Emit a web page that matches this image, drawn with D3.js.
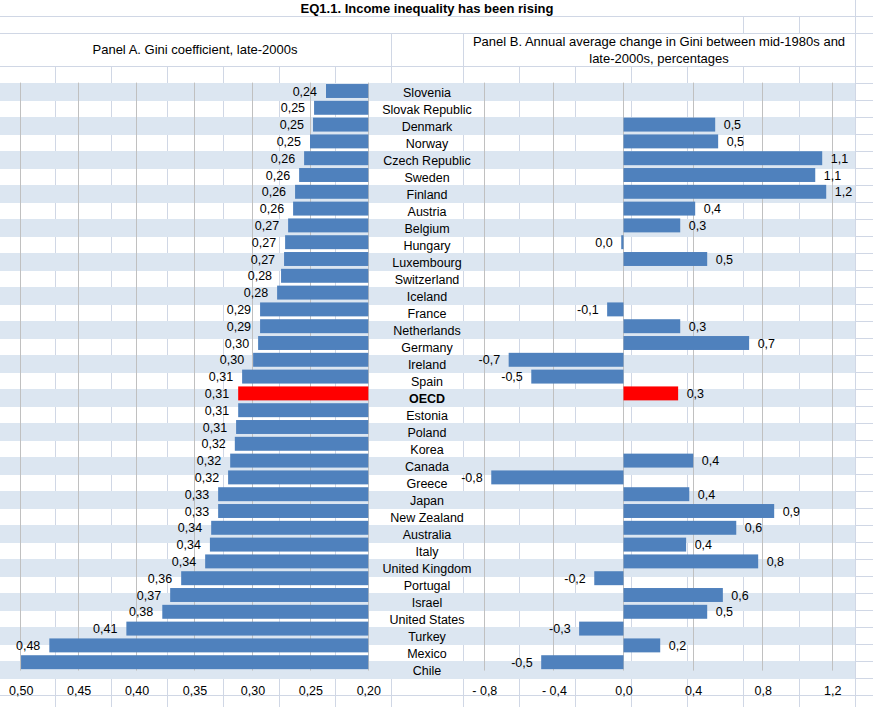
<!DOCTYPE html>
<html><head><meta charset="utf-8">
<script src="https://cdn.jsdelivr.net/npm/d3@7"></script>
<style>
body{margin:0;background:#fff;}
svg{display:block;font-family:"Liberation Sans",Arial,sans-serif;}
</style>
</head><body>
<svg id="c" width="873" height="707"></svg>
<script>
// ---------------- data ----------------
const countries = ["Slovenia","Slovak Republic","Denmark","Norway","Czech Republic","Sweden","Finland","Austria","Belgium","Hungary","Luxembourg","Switzerland","Iceland","France","Netherlands","Germany","Ireland","Spain","OECD","Estonia","Poland","Korea","Canada","Greece","Japan","New Zealand","Australia","Italy","United Kingdom","Portugal","Israel","United States","Turkey","Mexico","Chile"];
const gini = [0.2365,0.2468,0.2477,0.2503,0.2554,0.2597,0.2632,0.2649,0.2692,0.2718,0.2727,0.2753,0.2787,0.2934,0.2934,0.2951,0.2994,0.3089,0.3123,0.3123,0.3141,0.3152,0.3192,0.3210,0.3296,0.3296,0.3356,0.3367,0.3408,0.3615,0.3710,0.3778,0.4088,0.4753,0.4997];
const change = [null,null,0.527,0.544,1.142,1.102,1.165,0.412,0.326,-0.013,0.481,null,null,-0.094,0.326,0.722,-0.66,-0.530,0.314,null,null,null,0.401,-0.760,0.378,0.866,0.648,0.360,0.774,-0.168,0.571,0.481,-0.255,0.211,-0.473];
const highlight = "OECD";
const giniTicks = [0.50,0.45,0.40,0.35,0.30,0.25,0.20];
const giniTickLabels = ["0,50","0,45","0,40","0,35","0,30","0,25","0,20"];
const changeTicks = [-0.8,-0.4,0,0.4,0.8,1.2];
const changeTickLabels = ["- 0,8","- 0,4","0,0","0,4","0,8","1,2"];
const titleText = "EQ1.1. Income inequality has been rising";
const panelAText = ["Panel A. Gini coefficient, late-2000s"];
const panelBText = ["Panel B. Annual average change in Gini between mid-1980s and","late-2000s, percentages"];

// ---------------- styles ----------------
const W = 873, H = 707;
const cellGrid = "#d0d7e5", bandFill = "#dce6f1", chartGrid = "#c0c0c0";
const barColor = "#4f81bd", hiColor = "#ff0000";
const svg = d3.select("#c");

// ---------------- spreadsheet background ----------------
const colEdges = [55,111,167,223,279,335,391,463,519,575,631,687,743,799,855];
const rowScale = d3.scaleBand().domain(countries).range([83, 678]).padding(0);
const sheet = svg.append("g");
// horizontal gridlines
const hLines = [16,33,66,83,695];
countries.forEach((c,i)=>hLines.push(rowScale(c)+rowScale.step()));
hLines.forEach(y=>{
  sheet.append("line").attr("x1",0).attr("x2",W).attr("y1",y+0.5).attr("y2",y+0.5)
    .attr("stroke",cellGrid).attr("stroke-width",1);
});
function vseg(x,y0,y1){
  sheet.append("line").attr("x1",x+0.5).attr("x2",x+0.5).attr("y1",y0).attr("y2",y1)
    .attr("stroke",cellGrid).attr("stroke-width",1);
}
vseg(855,0,16);
[743,799,855].forEach(x=>vseg(x,16,33));
[391,463,855].forEach(x=>vseg(x,33,66));
colEdges.forEach(x=>vseg(x,66,83));
colEdges.filter(x=>x!==391).forEach(x=>vseg(x,83,678));
colEdges.forEach(x=>vseg(x,678,H));
// alternating bands
countries.forEach((c,i)=>{
  if(i%2===0){
    sheet.append("rect").attr("x",0).attr("y",rowScale(c)).attr("width",855).attr("height",rowScale.step()+1)
      .attr("fill",bandFill);
  }
});

// ---------------- titles ----------------
svg.append("text").attr("x",427).attr("y",13).attr("text-anchor","middle")
  .attr("font-size","13px").attr("font-weight","bold").text(titleText);
panelAText.forEach((t,i)=>svg.append("text").attr("x",195).attr("y",54+i*16)
  .attr("text-anchor","middle").attr("font-size","13px").text(t));
panelBText.forEach((t,i)=>svg.append("text").attr("x",659).attr("y",46+i*16.5)
  .attr("text-anchor","middle").attr("font-size","13px").text(t));

// ---------------- category labels (sheet cells) ----------------
const labG = svg.append("g");
countries.forEach((c,i)=>{
  const t = labG.append("text").attr("x",427).attr("y",rowScale(c)+13.5)
    .attr("text-anchor","middle").attr("font-size","12.5px")
    .attr("font-weight", c===highlight ? "bold" : "normal").text(c);
  if(i%2===1){
    const w = t.node().getComputedTextLength();
    labG.insert("rect","text").attr("x",427-w/2-1).attr("y",rowScale(c)+1)
      .attr("width",w+2).attr("height",rowScale.step()-1).attr("fill","#fff");
  }
});

// ---------------- chart scales ----------------
const y = d3.scaleBand().domain(countries).range([82.6, 670.6]).paddingInner(0.17).paddingOuter(0.085);
const xA = d3.scaleLinear().domain([0.50, 0.20]).range([20.7, 368.3]);
const xB = d3.scaleLinear().domain([-0.8, 1.2]).range([484.3, 832.3]);
const px = v => Math.floor(v) + 0.5;

// gridlines
const grid = svg.append("g");
giniTicks.forEach(t=>grid.append("line").attr("x1",px(xA(t))).attr("x2",px(xA(t)))
  .attr("y1",82.6).attr("y2",670.6).attr("stroke",chartGrid));
changeTicks.forEach(t=>grid.append("line").attr("x1",px(xB(t))).attr("x2",px(xB(t)))
  .attr("y1",82.6).attr("y2",670.6).attr("stroke",chartGrid));

// ---------------- Panel A bars ----------------
const dataA = countries.map((c,i)=>({c, v:gini[i]}));
svg.append("g").selectAll("rect").data(dataA).join("rect")
  .attr("x",d=>xA(d.v)).attr("y",d=>y(d.c))
  .attr("width",d=>xA(0.20)-xA(d.v)).attr("height",y.bandwidth())
  .attr("fill",d=>d.c===highlight?hiColor:barColor);
const fmtA = v => (Math.round(v*100)/100).toFixed(2).replace(".", ",");
const labA = svg.append("g").attr("font-size","12.5px");
dataA.forEach(d=>{
  const t = labA.append("text").attr("x",xA(d.v)-9).attr("y",y(d.c)+y.bandwidth()/2+4.5)
    .attr("text-anchor","end").text(fmtA(d.v));
  const w = t.node().getComputedTextLength();
  if(xA(d.v)-9-w < 0) t.remove();
});

// ---------------- Panel B bars ----------------
const dataB = countries.map((c,i)=>({c, v:change[i]})).filter(d=>d.v!==null);
svg.append("g").selectAll("rect").data(dataB).join("rect")
  .attr("x",d=>Math.min(xB(0),xB(d.v))).attr("y",d=>y(d.c))
  .attr("width",d=>Math.abs(xB(d.v)-xB(0))).attr("height",y.bandwidth())
  .attr("fill",d=>d.c===highlight?hiColor:barColor);
const fmtB = v => (Math.round(v*10)/10).toFixed(1).replace(".", ",");
svg.append("g").attr("font-size","12.5px").selectAll("text").data(dataB).join("text")
  .attr("x",d=>d.v<0 ? xB(d.v)-8.5 : xB(d.v)+8.5)
  .attr("y",d=>y(d.c)+y.bandwidth()/2+4.5)
  .attr("text-anchor",d=>d.v<0?"end":"start")
  .text(d=>fmtB(d.v));

// ---------------- value axes (tick labels) ----------------
function styleAxis(g){
  g.select(".domain").remove();
  g.selectAll(".tick line").remove();
  g.selectAll(".tick text").attr("y",0).attr("dy",null)
    .attr("font-size","12.5px").attr("font-family","'Liberation Sans',Arial,sans-serif").attr("fill","#000");
}
svg.append("g").attr("transform","translate(0,695)")
  .call(d3.axisBottom(xA).tickValues(giniTicks).tickFormat((d,i)=>giniTickLabels[i]).tickSize(0))
  .call(styleAxis);
svg.append("g").attr("transform","translate(0,695)")
  .call(d3.axisBottom(xB).tickValues(changeTicks).tickFormat((d,i)=>changeTickLabels[i]).tickSize(0))
  .call(styleAxis);
</script>
</body></html>
